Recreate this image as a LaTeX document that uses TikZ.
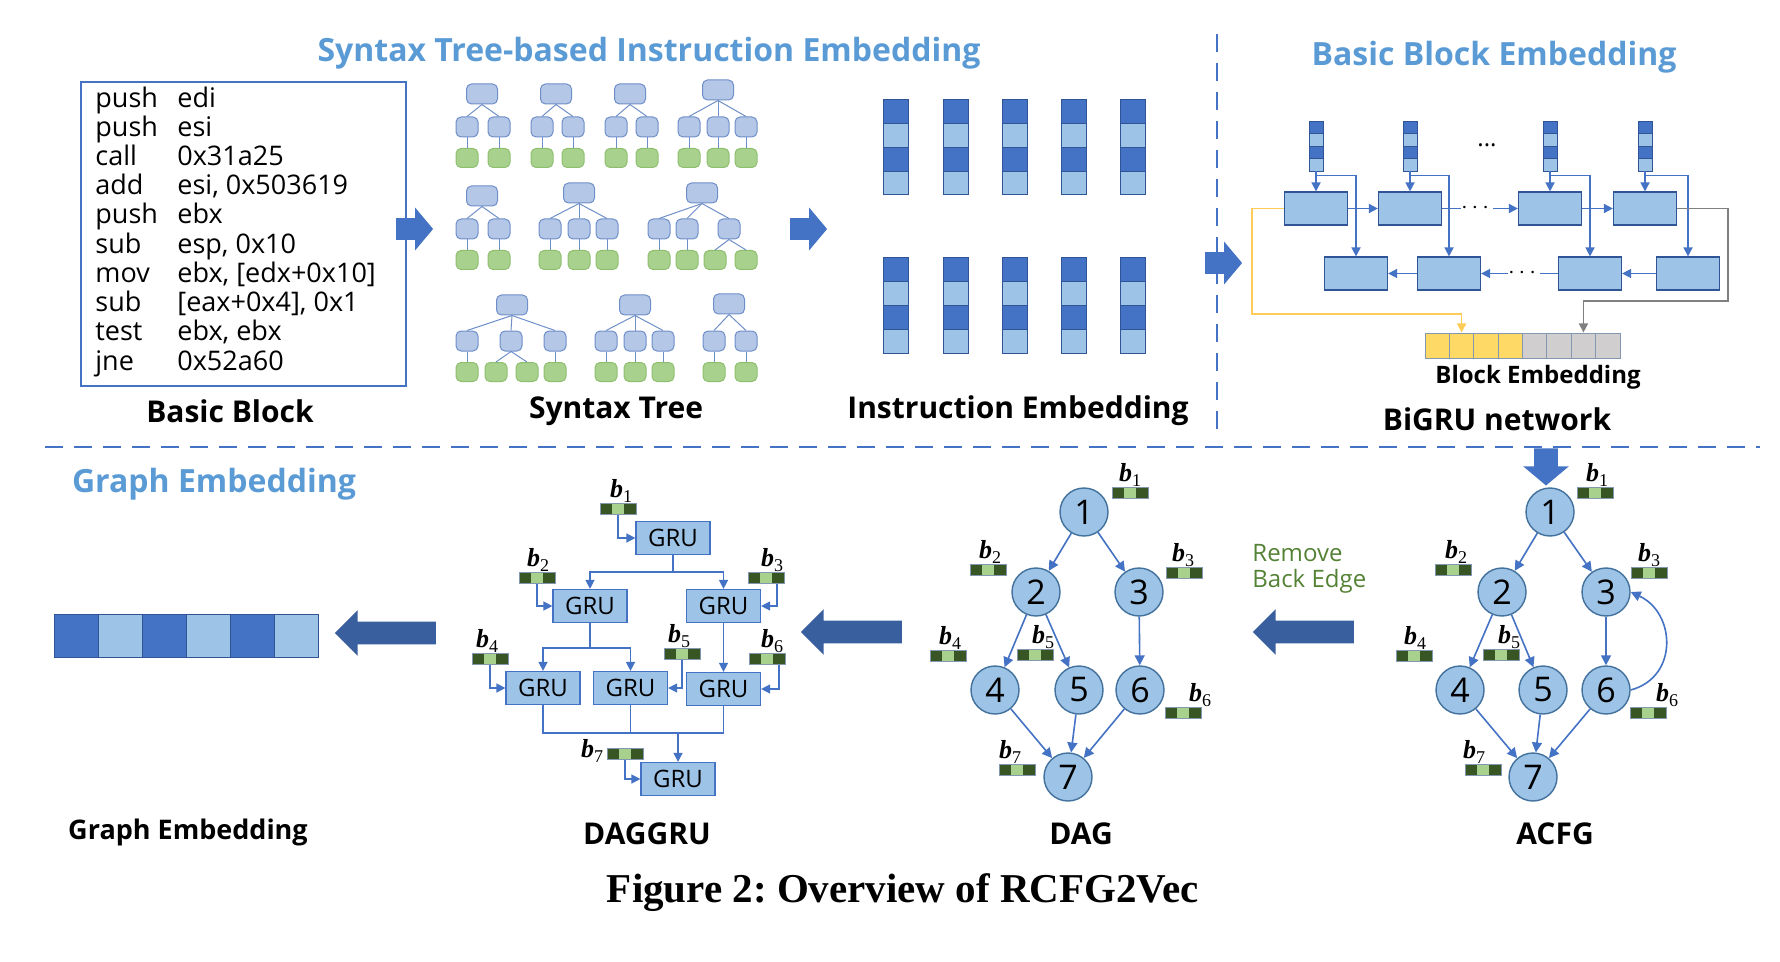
\documentclass[tikz,border=0pt]{standalone}
\usepackage{amsmath}
\usepackage{fontspec}
\setmainfont{Open Sans}
\newfontfamily\capfont{Liberation Serif}
\usetikzlibrary{arrows.meta, positioning, shapes.arrows, calc}
\definecolor{cTitle}{HTML}{5B9BD5}
\definecolor{cBlue}{HTML}{4472C4}
\definecolor{cLight}{HTML}{9DC3E6}
\definecolor{cEdge}{HTML}{2F5597}
\definecolor{cArrow}{HTML}{3A5F9F}
\definecolor{cNodeB}{HTML}{41719C}
\definecolor{cTree}{HTML}{B4C7E7}
\definecolor{cTreeB}{HTML}{6F8FC8}
\definecolor{cLeaf}{HTML}{A9D18E}
\definecolor{cLeafB}{HTML}{8DBF6F}
\definecolor{cDGreen}{HTML}{375623}
\definecolor{cGold}{HTML}{FFD966}
\definecolor{cGray}{HTML}{D0CECE}
\definecolor{cGrayB}{HTML}{8497B0}
\definecolor{cRemove}{HTML}{548235}

% one syntax tree: name, root x, root y, child y, child xs
\newcommand{\syntree}[5]{%
  \node[troot] (#1) at (#2,#3) {};
  \foreach \cx [count=\k] in {#5} {
    \node[tkid] (#1k\k) at (\cx,#4) {};
    \node[tleaf] (#1l\k) at (\cx,#4+31) {};
    \draw[tline] (#1.south) -- (#1k\k.north);
    \draw[tline] (#1k\k) -- (#1l\k);
  }}
% block label b_i
\newcommand{\bname}[1]{{\capfont\bfseries\itshape\fontsize{13}{13}\selectfont b}\raisebox{-2.5pt}{\capfont\fontsize{9}{9}\selectfont #1}}

\begin{document}
\begin{tikzpicture}[x=0.5pt, y=-0.5pt, every node/.style={inner sep=0pt},
    ttl/.style={font=\bfseries\fontsize{16}{18}\selectfont, text=cTitle},
    lbl/.style={font=\bfseries\fontsize{15}{17}\selectfont},
    sep/.style={draw=cBlue, line width=1.3pt, dash pattern=on 9pt off 5.5pt},
    asm/.style={anchor=base west, font=\fontsize{13.5}{14.6}\selectfont},
    troot/.style={draw=cTreeB, fill=cTree, rounded corners=2.5pt, minimum width=15.5pt, minimum height=10pt, line width=0.5pt},
    tkid/.style={troot, minimum width=11pt},
    tleaf/.style={draw=cLeafB, fill=cLeaf, rounded corners=2.5pt, minimum width=11pt, minimum height=9.5pt, line width=0.5pt},
    tline/.style={draw=cTreeB, line width=0.5pt},
    icell/.style={draw=cEdge, minimum width=12.5pt, minimum height=11.875pt, line width=0.5pt},
    scell/.style={draw=cEdge, minimum width=7pt, minimum height=6.25pt, line width=0.4pt},
    gbox/.style={draw=cEdge, fill=cLight, minimum width=31.5pt, minimum height=16.5pt, line width=0.6pt},
    barr/.style={draw=cBlue, line width=0.8pt, -{Triangle[length=4.5pt, width=4.5pt]}},
    bline/.style={draw=cBlue, line width=0.8pt},
    ecell/.style={draw=cGrayB, minimum width=12.2pt, minimum height=12.5pt, line width=0.5pt},
    rarrow/.style={single arrow, fill=cBlue, inner sep=5.25pt, minimum height=18.5pt, minimum width=21pt, single arrow head extend=5.25pt, single arrow tip angle=100},
    larrow/.style={single arrow, shape border rotate=180, fill=cArrow, inner sep=5.5pt, minimum height=50.5pt, minimum width=22.5pt, single arrow head extend=5.75pt},
    cfg/.style={circle, draw=cNodeB, fill=cLight, minimum size=24pt, line width=0.7pt, font=\fontsize{17}{17}\selectfont},
    earr/.style={draw=cBlue, line width=0.8pt, -{Triangle[length=5pt, width=5pt]}},
    bvec/.style={draw=cGrayB, fill=cDGreen, minimum width=18pt, minimum height=5.5pt, line width=0.3pt,
      path picture={\fill[cLeaf] ([xshift=6pt]path picture bounding box.south west) rectangle ([xshift=-6pt]path picture bounding box.north east);}},
    blab/.style={},
    gru/.style={draw=cBlue, fill=cLight, minimum width=37pt, minimum height=16.5pt, line width=0.6pt, font=\fontsize{12}{12}\selectfont},
    garr/.style={draw=cBlue, line width=0.7pt, -{Triangle[length=4.5pt, width=4.5pt]}},
    gline/.style={draw=cBlue, line width=0.7pt}]
  \useasboundingbox (0,0) rectangle (1780,962);

  % separators
  \draw[sep] (1217,34) -- (1217,437);
  \draw[sep] (45,447) -- (1760,447);

  % titles
  \node[ttl] (stitle) at (649,53) {Syntax Tree-based Instruction Embedding};
  \node[ttl] (btitle) at (1494,57) {Basic Block Embedding};
  \node[ttl] (gtitle) at (214,484) {Graph Embedding};

  % basic block
  \node[draw=cBlue, line width=1.2pt, minimum width=162.5pt, minimum height=152pt] (bb) at (243.5,234) {};
  \foreach \mn/\op [count=\i] in {push/edi, push/esi, call/0x31a25, add/{esi, 0x503619}, push/ebx, sub/{esp, 0x10}, mov/{ebx, [edx+0x10]}, sub/{[eax+0x4], 0x1}, test/{ebx, ebx}, jne/0x52a60}
    \node[asm] (op\i) at (95,78+29.2*\i) {\makebox[41pt][l]{\mn}\op};
  \node[lbl] (bblab) at (230,411) {Basic Block};
  \node[rarrow] (a1) at (410,229) {};

  % syntax trees
  \syntree{t1}{482}{94}{127}{467,499}
  \syntree{t2}{556}{94}{127}{542,573}
  \syntree{t3}{630}{94}{127}{616,647}
  \syntree{t4}{718}{90}{127}{689,718,746}
  \syntree{t5}{482}{196}{229}{467,499}
  \syntree{t6}{579}{193}{229}{550,579,607}
  \syntree{t7}{702}{193}{229}{659,687}
  \node[tkid] (t7k3) at (729,229) {};
  \node[tleaf] (t7l3) at (715,260) {};
  \node[tleaf] (t7l4) at (746,260) {};
  \draw[tline] (t7.south) -- (t7k3.north);
  \draw[tline] (t7k3.south) -- (t7l3.north);
  \draw[tline] (t7k3.south) -- (t7l4.north);
  \syntree{t8}{512}{305}{341}{467,555}
  \node[tkid] (t8k3) at (511,341) {};
  \node[tleaf] (t8l3) at (496,372) {};
  \node[tleaf] (t8l4) at (527,372) {};
  \draw[tline] (t8.south) -- (t8k3.north);
  \draw[tline] (t8k3.south) -- (t8l3.north);
  \draw[tline] (t8k3.south) -- (t8l4.north);
  \syntree{t9}{635}{305}{341}{606,635,663}
  \syntree{t10}{729}{304}{341}{714,746}
  \node[lbl] (stlab) at (616,411) {Syntax Tree};
  \node[rarrow] (a2) at (804,229) {};

  % instruction embeddings
  \foreach \cx [count=\i] in {896,956,1015,1074,1133}
    \foreach \ry/\rw in {100/a,258/b}
      \foreach \c/\cc in {0/cBlue,1/cLight,2/cBlue,3/cLight}
        \node[icell, fill=\cc] (ie\rw\i\c) at (\cx,\ry+11.875+23.75*\c) {};
  \node[lbl] (ielab) at (1018,411) {Instruction Embedding};
  \node[rarrow] (a3) at (1219,263) {};

  % BiGRU network
  \foreach \cx/\bx [count=\i] in {1316/1356,1410/1449,1550/1590,1645/1688} {
    \foreach \c/\cc in {0/cBlue,1/cLight,2/cBlue,3/cLight}
      \node[scell, fill=\cc] (c\i\c) at (\cx,121+6.25+12.5*\c) {};
    \node[gbox] (f\i) at (\cx,208.5) {};
    \node[gbox] (r\i) at (\bx,273.5) {};
    \draw[barr] (c\i3.south) -- (f\i.north);
    \coordinate (br\i) at ($(c\i3.south)+(0,4)$);
    \draw[barr] (br\i) -| (r\i.north);
  }
  \node[font=\fontsize{12}{12}\selectfont] (idots) at (1487,145) {...};
  \node[font=\fontsize{12}{12}\selectfont] (tdots) at (1477,208.5) {$\cdots$};
  \node[font=\fontsize{12}{12}\selectfont] (bdots) at (1524,273.5) {$\cdots$};
  \draw[barr] (f1) -- (f2);
  \draw[bline] (f2) -- (tdots);
  \draw[barr] (tdots) -- (f3);
  \draw[barr] (f3) -- (f4);
  \draw[barr] (r4) -- (r3);
  \draw[bline] (r3) -- (bdots);
  \draw[barr] (bdots) -- (r2);
  \draw[barr] (r2) -- (r1);
  \foreach \cc [count=\i] in {cGold,cGold,cGold,cGold,cGray,cGray,cGray,cGray}
    \node[ecell, fill=\cc] (e\i) at (1425+24.375*\i-12.19,345.5) {};
  \coordinate (yc) at (1252,314);
  \coordinate (gc) at (1728,301);
  \draw[draw=cGold!85!orange, line width=0.8pt, -{Triangle[length=4.5pt, width=4.5pt]}] (f1.west) -| (yc) -| (e2.north);
  \draw[draw=gray, line width=0.8pt, -{Triangle[length=4.5pt, width=4.5pt]}] (f4.east) -| (gc) -| (e7.north);
  \node[font=\bfseries\fontsize{12}{14}\selectfont] (belab) at (1538,377) {Block Embedding};
  \node[lbl] (bglab) at (1497,419) {BiGRU network};
  \node[rarrow, shape border rotate=270, inner sep=5.75pt, minimum width=22.5pt, single arrow head extend=5.5pt] (dn) at (1546,462) {};

  % ACFG
  \foreach \i/\x/\y in {1/1550/512, 2/1502/592, 3/1606/592, 4/1460/690, 5/1543/690, 6/1606/690, 7/1533/777}
    \node[cfg] (a\i) at (\x,\y) {\i};
  \foreach \s/\t in {1/2,1/3,2/4,2/5,3/6,4/7,5/7,6/7}
    \draw[earr] (a\s) -- (a\t);
  \draw[earr] (a6.east) to[out=15, in=-25, looseness=1.3] (a3.east);
  \foreach \i/\vx/\vy/\lx in {1/1595/493/1597, 2/1453/570/1456, 3/1649/573/1649, 4/1414/656/1415, 5/1501/655/1509, 6/1648/713/1667, 7/1483/770/1474} {
    \node[bvec] (av\i) at (\vx,\vy) {};
    \node[blab] (al\i) at (\lx,\vy-18) {\bname{\i}};
  }
  \node[lbl] (acfglab) at (1555,834) {ACFG};

  % remove back edge
  \node[anchor=west, align=left, text=cRemove, font=\fontsize{12}{13}\selectfont] (rbe) at (1252,569) {Remove\\Back Edge};
  \node[larrow] (l3) at (1309,632) {};

  % DAG
  \foreach \i/\x/\y in {1/1084/512, 2/1036/592, 3/1139/592, 4/995/690, 5/1079/690, 6/1140/690, 7/1068/777}
    \node[cfg] (d\i) at (\x,\y) {\i};
  \foreach \s/\t in {1/2,1/3,2/4,2/5,3/6,4/7,5/7,6/7}
    \draw[earr] (d\s) -- (d\t);
  \foreach \i/\vx/\vy/\lx in {1/1130/493/1130, 2/988/570/990, 3/1184/573/1183, 4/948/656/950, 5/1035/655/1043, 6/1183/713/1200, 7/1017/770/1010} {
    \node[bvec] (dv\i) at (\vx,\vy) {};
    \node[blab] (dl\i) at (\lx,\vy-18) {\bname{\i}};
  }
  \node[lbl] (daglab) at (1081,834) {DAG};
  \node[larrow] (l2) at (857,632) {};

  % DAGGRU
  \foreach \i/\x/\y in {1/673/538, 2/590/606, 3/723.5/606, 4/543/688, 5/630.5/688, 6/723.5/689, 7/678/779}
    \node[gru] (g\i) at (\x,\y) {GRU};
  \coordinate (s1) at (673,572);
  \coordinate (s2) at (590,648);
  \coordinate (j) at (678,733);
  \draw[gline] (g1.south) -- (s1);
  \draw[garr] (s1) -| (g2.north);
  \draw[garr] (s1) -| (g3.north);
  \draw[gline] (g2.south) -- (s2);
  \draw[garr] (s2) -| (g4.north);
  \draw[garr] (s2) -| (g5.north);
  \draw[garr] (g3) -- (g6);
  \draw[gline] (g4.south) |- (j);
  \draw[gline] (g6.south) |- (j);
  \draw[gline] (g5.south) -- (g5.south |- j);
  \draw[garr] (j) -- (g7.north);
  \foreach \i/\vx/\vy/\lx in {1/618/509/621, 2/537/578/538, 3/766/578/772, 4/490/659/487, 5/682/654/679, 6/767/659/772} {
    \node[bvec] (gv\i) at (\vx,\vy) {};
    \node[blab] (gl\i) at (\lx,\vy-18) {\bname{\i}};
  }
  \node[bvec] (gv7) at (625,754) {};
  \node[blab] (gl7) at (592,751) {\bname{7}};
  \draw[garr] (gv1.south) |- (g1.west);
  \draw[garr] (gv2.south) |- (g2.west);
  \draw[garr] ([xshift=5.5pt]gv3.south) |- (g3.east);
  \draw[garr] (gv4.south) |- (g4.west);
  \draw[garr] (gv5.south) |- (g5.east);
  \draw[garr] ([xshift=6pt]gv6.south) |- (g6.east);
  \draw[garr] (gv7.south) |- (g7.west);
  \node[lbl] (dglab) at (647,834) {DAGGRU};
  \node[larrow] (l1) at (391,633) {};

  % graph embedding
  \foreach \cc [count=\i] in {cBlue,cLight,cBlue,cLight,cBlue,cLight}
    \node[icell, fill=\cc, minimum width=22pt, minimum height=21.5pt] (ge\i) at (54+44*\i-22,635.5) {};
  \node[font=\bfseries\fontsize{13.5}{15}\selectfont] (gelab) at (188,832) {Graph Embedding};

  % caption
  \node[font=\capfont\bfseries\fontsize{20.5}{24}\selectfont] (cap) at (903,893) {\frenchspacing Figure 2: Overview of RCFG2Vec};
\end{tikzpicture}
\end{document}
